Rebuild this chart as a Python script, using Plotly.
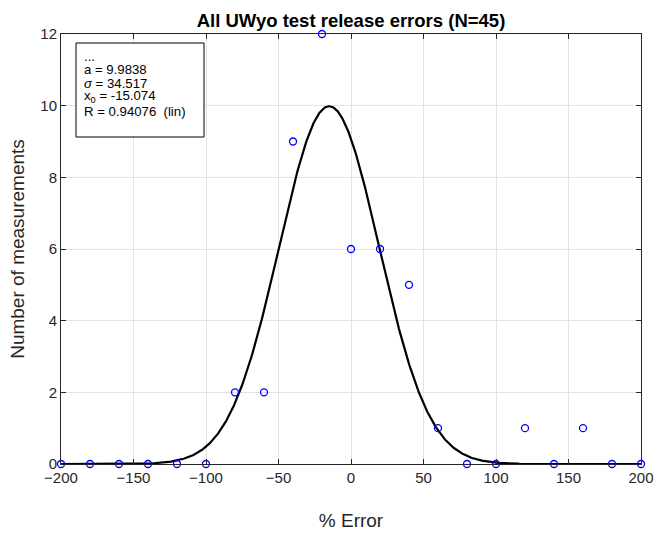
import numpy as np
import plotly.graph_objects as go

x_bins = [-200, -180, -160, -140, -120, -100, -80, -60, -40, -20, 0, 20, 40, 60, 80, 100, 120, 140, 160, 180, 200]
counts = [0, 0, 0, 0, 0, 0, 2, 2, 9, 12, 6, 6, 5, 1, 0, 0, 1, 0, 1, 0, 0]
fit_a = 9.9838
fit_sigma = 34.517
fit_x0 = -15.074
fit_R = 0.94076

xf = np.linspace(-200, 200, 801)
yf = fit_a * np.exp(-(xf - fit_x0) ** 2 / (2 * fit_sigma ** 2))

fig = go.Figure()
fig.add_trace(go.Scatter(x=xf, y=yf, mode="lines", line=dict(color="black", width=2.2), showlegend=False))
fig.add_trace(go.Scatter(x=x_bins, y=counts, mode="markers",
                         marker=dict(symbol="circle-open", size=7, color="blue", line=dict(width=1.3)),
                         showlegend=False, cliponaxis=False))

axcol = "#262626"
fnt = "Liberation Sans, Arial"
fig.update_layout(
    width=654, height=533,
    margin=dict(l=61, r=13, t=34, b=69),
    paper_bgcolor="white", plot_bgcolor="white",
    font=dict(family=fnt, size=15, color=axcol),
    title=dict(text="<b>All UWyo test release errors (N=45)</b>", x=0.5, xanchor="center",
               xref="paper", y=1, yref="paper", yanchor="bottom", pad=dict(b=7),
               font=dict(size=18.5, color="black")),
    xaxis=dict(range=[-200, 200], tickvals=[-200, -150, -100, -50, 0, 50, 100, 150, 200],
               showgrid=True, gridcolor="#e3e3e3", gridwidth=1, zeroline=False,
               showline=True, linecolor=axcol, linewidth=1, mirror="ticks",
               ticks="inside", ticklen=5, tickcolor=axcol, automargin=False,
               title=dict(text="% Error", standoff=28, font=dict(size=19))),
    yaxis=dict(range=[0, 12], tickvals=[0, 2, 4, 6, 8, 10, 12],
               showgrid=True, gridcolor="#e3e3e3", gridwidth=1, zeroline=False,
               showline=True, linecolor=axcol, linewidth=1, mirror="ticks",
               ticks="inside", ticklen=5, tickcolor=axcol, automargin=False,
               title=dict(text="Number of measurements", standoff=10, font=dict(size=19))),
)

# fit-parameter box
fig.add_shape(type="rect", xref="paper", yref="paper", x0=0.0259, x1=0.2466, y0=0.7605, y1=0.979,
              line=dict(color="black", width=1), fillcolor="white", layer="above")
lines = ["...",
         "a = %.4f" % fit_a,
         "<i>σ</i> = %.3f" % fit_sigma,
         "x<sub>0</sub> = %.3f" % fit_x0,
         "R = %.5f  (lin)" % fit_R]
ys = [0.9477, 0.9163, 0.8849, 0.8535, 0.8209]
for t, yy in zip(lines, ys):
    fig.add_annotation(x=0.0357, y=yy, xref="paper", yref="paper", xanchor="left", yanchor="middle",
                       text=t, showarrow=False, align="left",
                       font=dict(size=13.2, color="black", family=fnt))

fig.write_html("out.html", config={"displayModeBar": False},
               post_script="document.body.style.margin='0';document.body.style.overflow='hidden';")
